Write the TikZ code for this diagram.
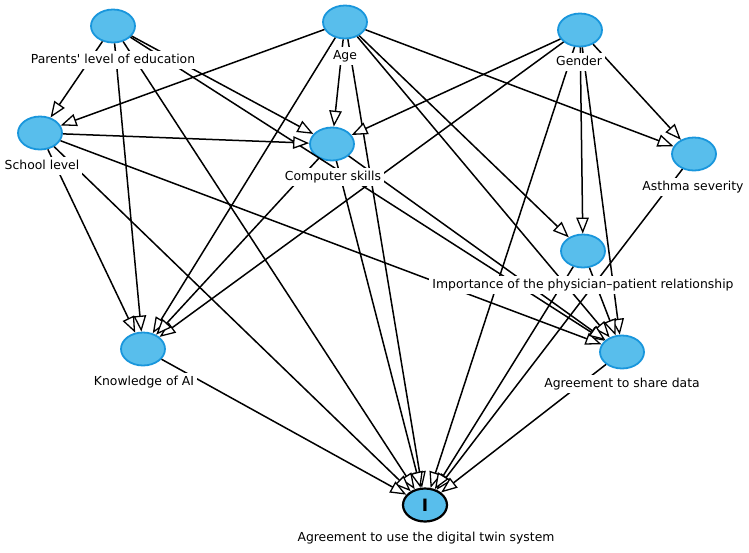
\documentclass[tikz,border=0pt]{standalone}
\usepackage{fontspec}
\setmainfont{DejaVu Sans}[Ligatures=TeXOff]
\usetikzlibrary{shapes.geometric,arrows.meta}
\definecolor{nodefill}{RGB}{88,190,236}
\definecolor{nodeedge}{RGB}{25,150,220}
\begin{document}
\begin{tikzpicture}[x=1pt,y=-1pt,
  var/.style={ellipse,draw=nodeedge,fill=nodefill,line width=1.8pt,minimum width=44pt,minimum height=33pt,inner sep=0pt},
  outc/.style={ellipse,draw=black,fill=nodefill,line width=2.2pt,minimum width=44pt,minimum height=33pt,inner sep=0pt,font=\fontsize{17}{17}\selectfont\bfseries},
  lab/.style={fill=white,inner sep=3pt,text height=9.5pt,text depth=3pt,font=\fontsize{12.4}{14}\selectfont},
  edge/.style={line width=1.5pt,-{Triangle[length=16pt,width=12.5pt,fill=white,line width=1.3pt]}}]
\useasboundingbox (0,0) rectangle (749,552);
% nodes
\node[var] (P) at (113,26) {};
\node[var] (A) at (345,22) {};
\node[var] (G) at (580,30) {};
\node[var] (S) at (40,133) {};
\node[var] (C) at (332,144) {};
\node[var] (AS) at (694,154) {};
\node[var] (I) at (583,251) {};
\node[var] (D) at (622,352) {};
\node[var] (K) at (143,349) {};
\node[outc] (O) at (425,505) {I};
% edges
\draw[edge] (P) -- (S);
\draw[edge] (P) -- (K);
\draw[edge] (P) -- (O);
\draw[edge] (P) -- (C);
\draw[edge] (P) -- (D);
\draw[edge] (A) -- (S);
\draw[edge] (A) -- (C);
\draw[edge] (A) -- (K);
\draw[edge] (A) -- (O);
\draw[edge] (A) -- (AS);
\draw[edge] (A) -- (I);
\draw[edge] (A) -- (D);
\draw[edge] (G) -- (C);
\draw[edge] (G) -- (K);
\draw[edge] (G) -- (AS);
\draw[edge] (G) -- (I);
\draw[edge] (G) -- (D);
\draw[edge] (G) -- (O);
\draw[edge] (S) -- (C);
\draw[edge] (S) -- (K);
\draw[edge] (S) -- (O);
\draw[edge] (S) -- (D);
\draw[edge] (C) -- (K);
\draw[edge] (C) -- (O);
\draw[edge] (C) -- (D);
\draw[edge] (AS) -- (O);
\draw[edge] (I) -- (D);
\draw[edge] (I) -- (O);
\draw[edge] (K) -- (O);
\draw[edge] (D) -- (O);
% labels
\node[lab] (Pl) at (113,60) {Parents' level of education};
\node[lab] (Al) at (345,56) {Age};
\node[lab] (Gl) at (579,62) {Gender};
\node[lab] (Sl) at (42,166) {School level};
\node[lab] (Cl) at (333,177) {Computer skills};
\node[lab] (ASl) at (693,187) {Asthma severity};
\node[lab] (Il) at (583,285) {Importance of the physician–patient relationship};
\node[lab] (Dl) at (622,384) {Agreement to share data};
\node[lab] (Kl) at (144,382) {Knowledge of AI};
\node[lab] (Ol) at (426,538) {Agreement to use the digital twin system};
\end{tikzpicture}
\end{document}
